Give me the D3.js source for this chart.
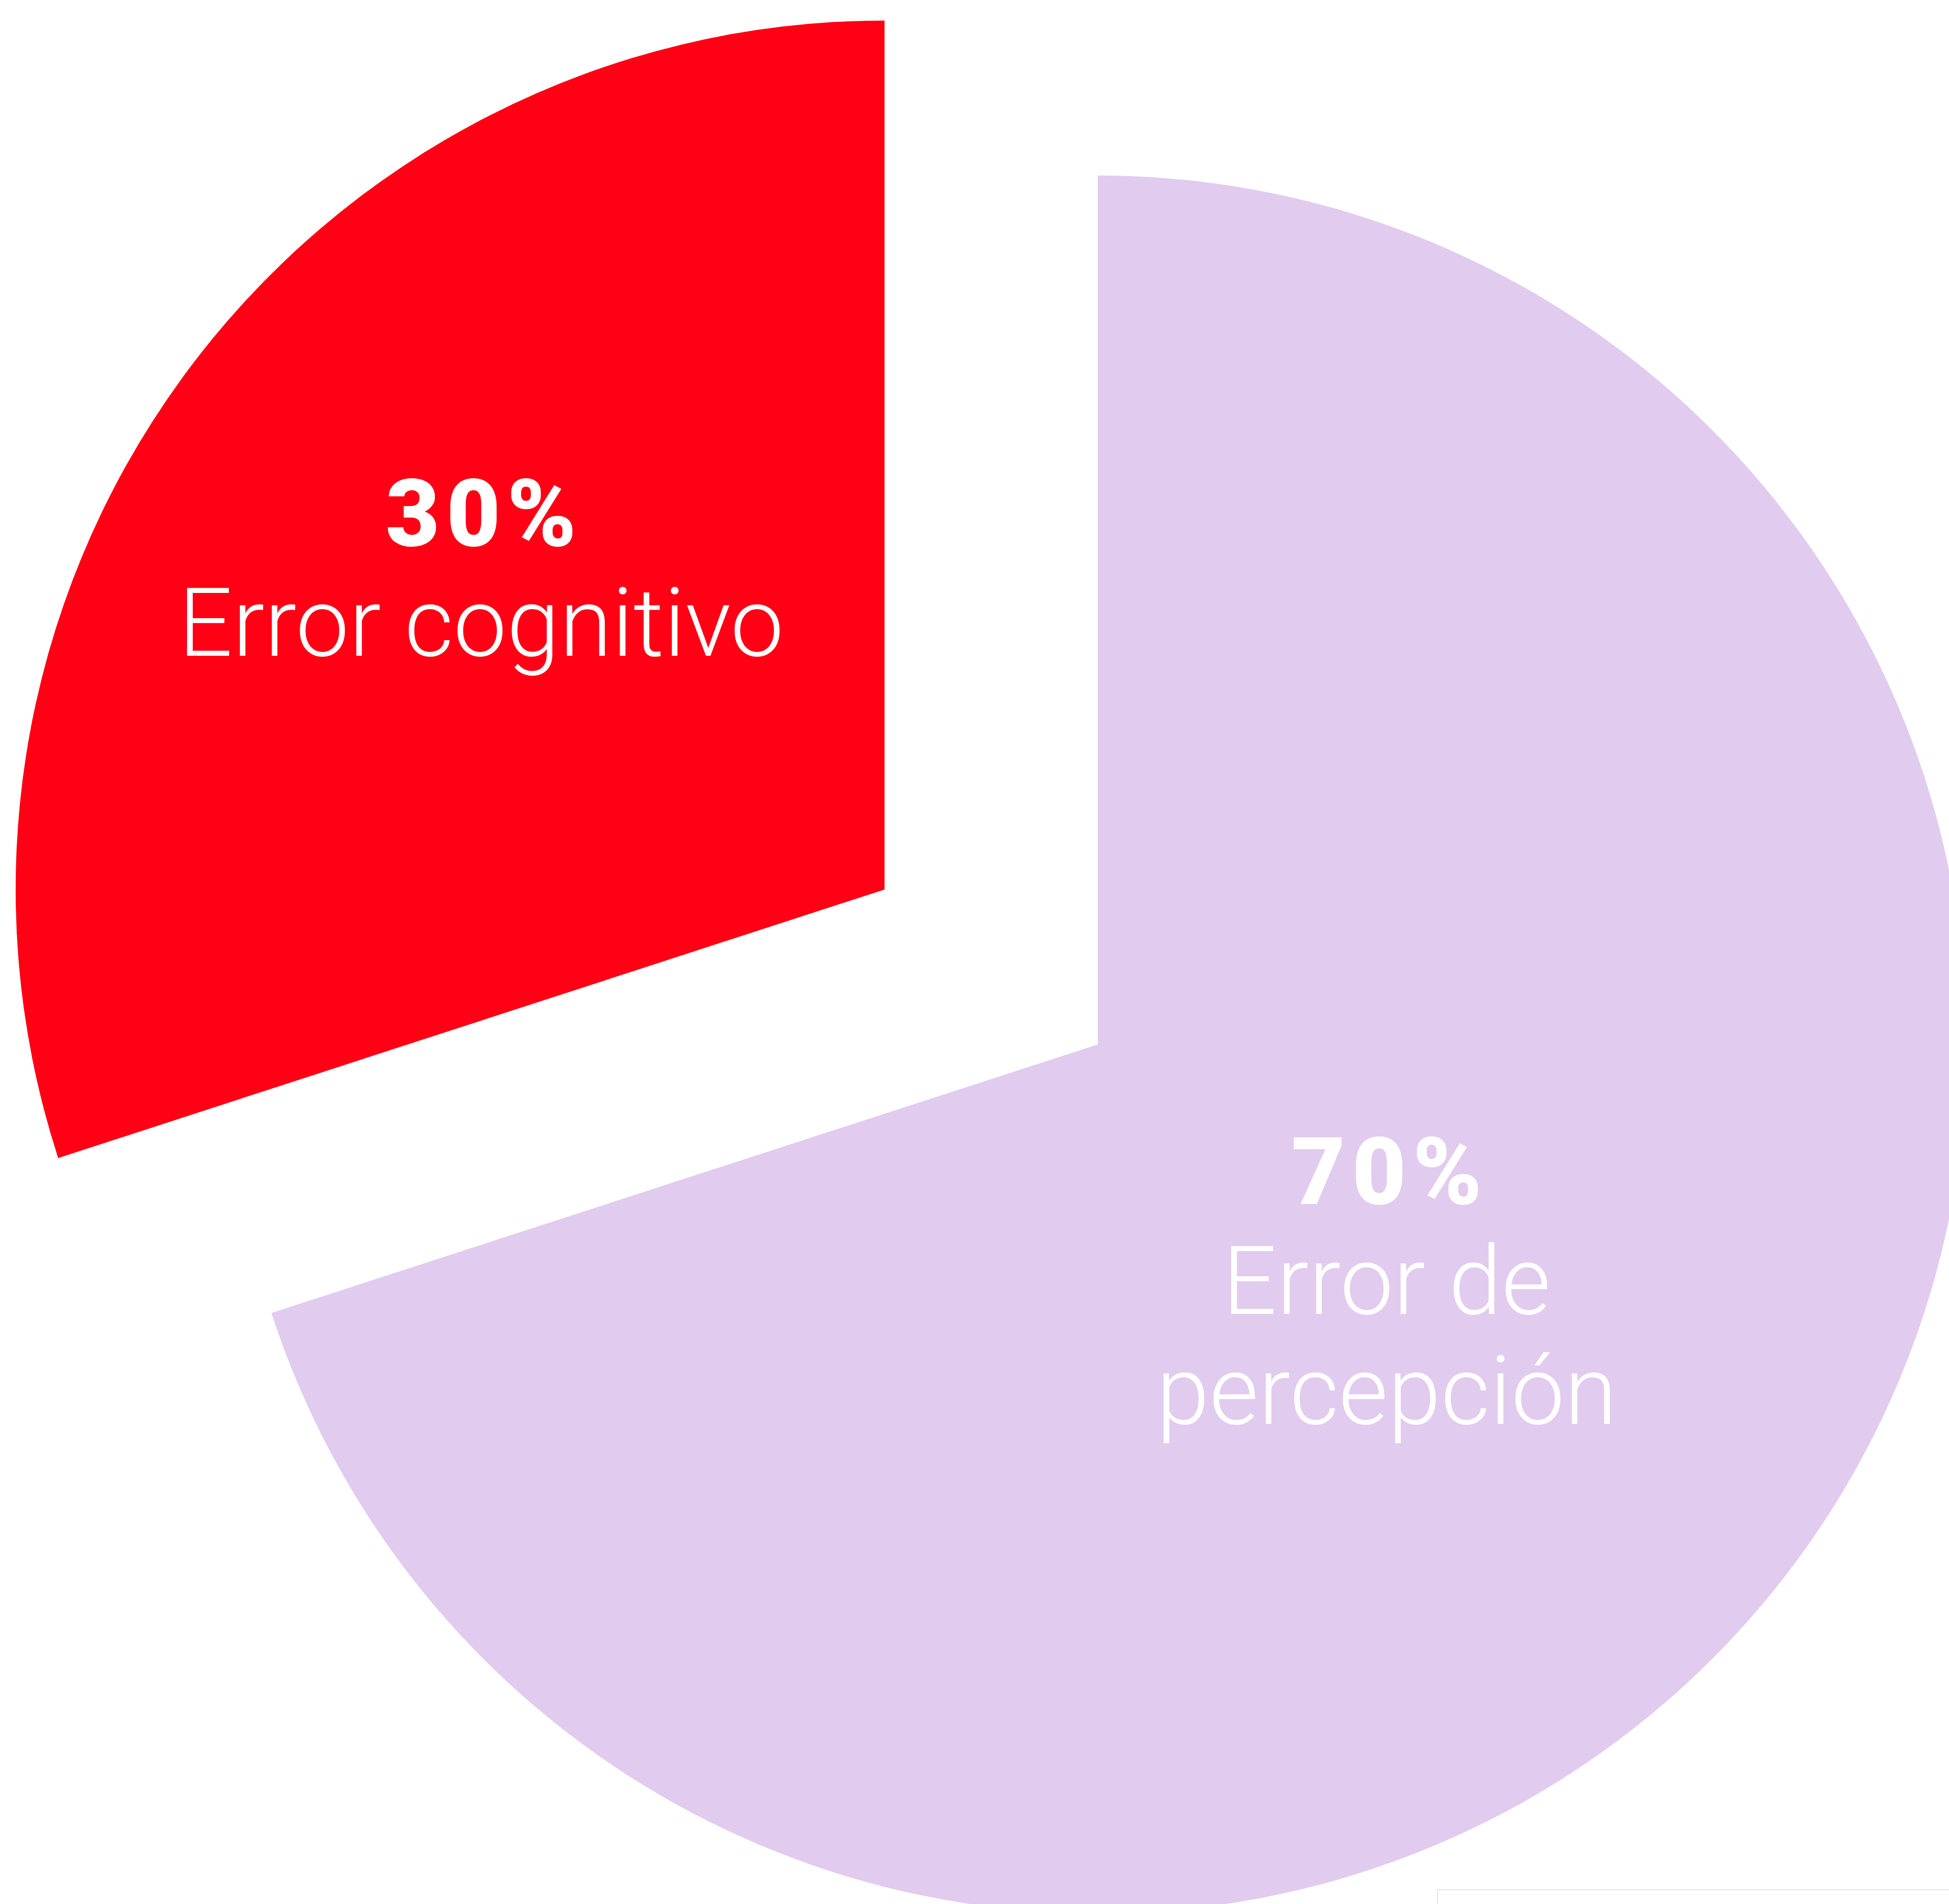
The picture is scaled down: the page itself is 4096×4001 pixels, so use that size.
<!DOCTYPE html>
<html>
<head>
<meta charset="utf-8">
<script src="https://cdn.jsdelivr.net/npm/d3@7"></script>
<style>
  html, body { margin: 0; padding: 0; background: #fff; }
  svg { display: block; }
</style>
</head>
<body>
<div id="chart"></div>
<script>
// slice data, in drawing order (red slice first, ends at 12 o'clock)
const categories = ['Error cognitivo', 'Error de percepción'];
const values = [30, 70];
const pctLabels = ['30%', '70%'];
const nameLines = [['Error cognitivo'], ['Error de', 'percepción']];
const colors = ['#ff0014', '#e1cbee'];

const W = 4096, H = 4001;
const cx = 2083, cy = 2032;      // pie centre before explode
const r = 1826;
const explode = 277;
const labelDist = [0.574, 0.411]; // label anchor, fraction of radius
const lineGap = 231;

const svg = d3.select('#chart')
  .append('svg')
  .attr('width', W)
  .attr('height', H);

const total = d3.sum(values);
const start = -values[0] / total * 2 * Math.PI;

const pie = d3.pie()
  .sort(null)
  .value(d => d.value)
  .startAngle(start)
  .endAngle(start + 2 * Math.PI);

const arc = d3.arc()
  .innerRadius(0)
  .outerRadius(r);

const data = categories.map((c, i) => ({name: c, value: values[i], i: i}));

const slices = svg.selectAll('g.slice')
  .data(pie(data))
  .enter()
  .append('g')
  .attr('class', 'slice')
  .attr('transform', d => {
    const a = (d.startAngle + d.endAngle) / 2;
    const x = cx + Math.sin(a) * explode;
    const y = cy - Math.cos(a) * explode;
    return 'translate(' + x + ',' + y + ')';
  });

slices.append('path')
  .attr('d', arc)
  .attr('fill', d => colors[d.data.i]);

// labels along the bisector
const labels = slices.append('g')
  .attr('transform', d => {
    const a = (d.startAngle + d.endAngle) / 2;
    const k = labelDist[d.data.i] * r;
    return 'translate(' + (Math.sin(a) * k) + ',' + (-Math.cos(a) * k) + ')';
  });

labels.append('text')
  .attr('text-anchor', 'middle')
  .attr('y', -106)
  .attr('dx', 7)
  .attr('fill', '#fff')
  .style('font-family', 'Roboto, "DejaVu Sans", sans-serif')
  .style('font-weight', 900)
  .style('font-size', '196px')
  .style('letter-spacing', '14px')
  .text(d => pctLabels[d.data.i]);

labels.each(function (d) {
  const g = d3.select(this);
  nameLines[d.data.i].forEach((line, j) => {
    g.append('text')
      .attr('text-anchor', 'middle')
      .attr('y', 125 + j * lineGap)
      .attr('fill', '#fff')
      .style('font-family', 'Roboto, "DejaVu Sans", sans-serif')
      .style('font-weight', 300)
      .style('font-size', '200px')
      .text(line);
  });
});

// faint frame corner at the bottom edge
svg.append('path')
  .attr('d', 'M3021,' + H + 'V3971H' + W)
  .attr('fill', 'none')
  .attr('stroke', '#e4e4e4')
  .attr('stroke-width', 2);
</script>
</body>
</html>
